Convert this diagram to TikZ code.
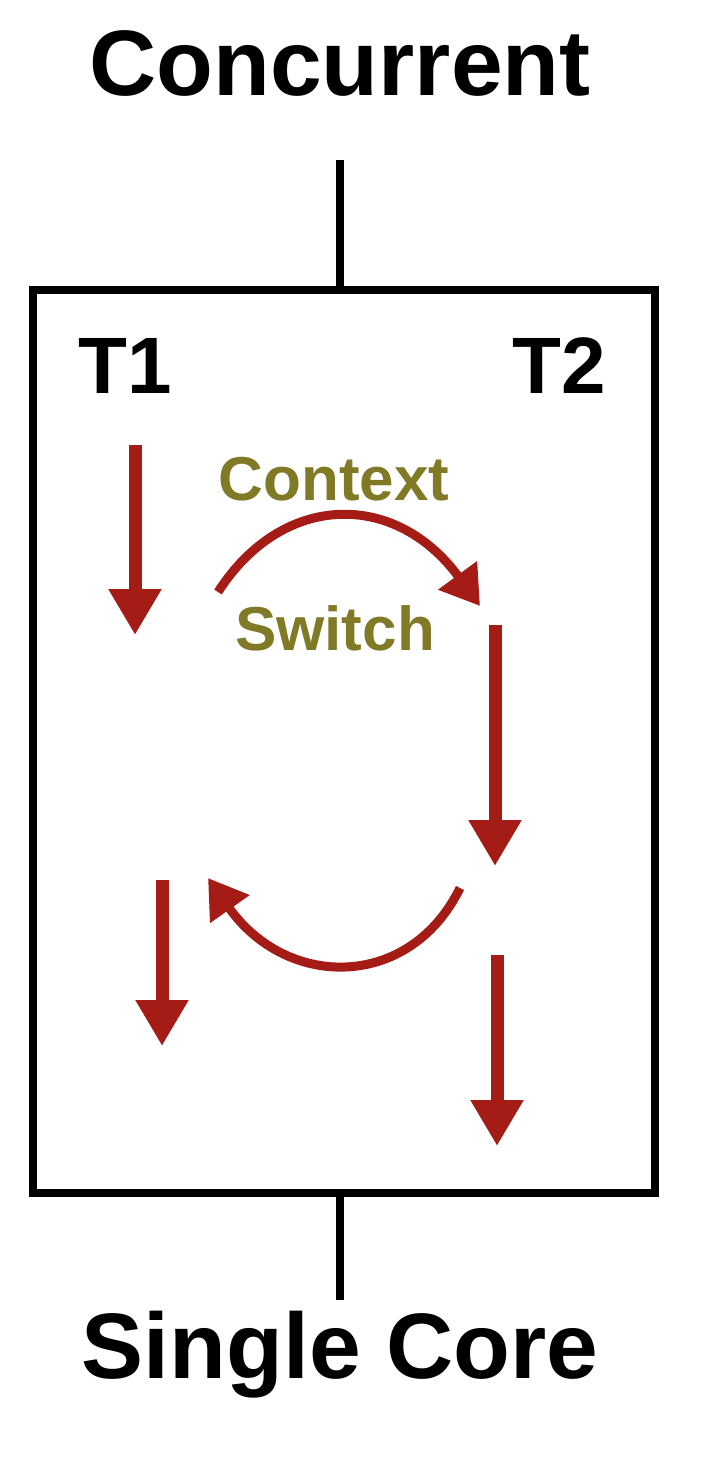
\documentclass[tikz,border=0pt]{standalone}
\usepackage{fontspec}
\setmainfont{Liberation Sans}
\usetikzlibrary{arrows.meta}
\definecolor{arrowred}{RGB}{165,28,22}
\definecolor{olivetext}{RGB}{128,122,38}
\begin{document}
\begin{tikzpicture}[x=0.5pt,y=-0.5pt,
  title/.style={font=\bfseries\fontsize{46.5}{50}\selectfont, inner sep=0pt, anchor=base},
  tlabel/.style={font=\bfseries\fontsize{40}{44}\selectfont, inner sep=0pt, anchor=base},
  cslabel/.style={font=\bfseries\fontsize{31}{34}\selectfont, text=olivetext, inner sep=0pt, anchor=base},
  blackline/.style={line width=4pt, black},
  flow/.style={line width=6.5pt, arrowred, -{Triangle[length=23pt,width=25pt]}},
  switcharrow/.style={line width=4.5pt, arrowred, -{Triangle[length=19pt,width=23pt]}}]
\useasboundingbox (0,0) rectangle (716,1458);
\fill[white] (0,0) rectangle (716,1458);
% texts
\node[title] (conc) at (340,95) {Concurrent};
\node[title] (single) at (340,1378) {Single Core};
\node[tlabel, anchor=base west] (t1) at (78,393) {T1};
\node[tlabel, anchor=base east] (t2) at (606,393) {T2};
\node[cslabel] (ctx) at (334,500) {Context};
\node[cslabel] (sw) at (335,650) {Switch};
% box and stems
\coordinate (topstem) at (340,160);
\coordinate (botstem) at (340,1300);
\node[draw, blackline, minimum width=311pt, minimum height=451.5pt, inner sep=0pt] (box) at (344,741.5) {};
\draw[blackline] (topstem) -- (box.north -| topstem);
\draw[blackline] (box.south -| botstem) -- (botstem);
% flow arrows
\coordinate (a1s) at (135,445); \coordinate (a1e) at (135,635);
\coordinate (a2s) at (495,625); \coordinate (a2e) at (495,866);
\coordinate (a3s) at (162,880); \coordinate (a3e) at (162,1046);
\coordinate (a4s) at (497,955); \coordinate (a4e) at (497,1146);
\draw[flow] (a1s) -- (a1e);
\draw[flow] (a2s) -- (a2e);
\draw[flow] (a3s) -- (a3e);
\draw[flow] (a4s) -- (a4e);
% context switch arrows
\coordinate (c1s) at (218,592); \coordinate (c1e) at (480,606);
\coordinate (c2s) at (460,888); \coordinate (c2e) at (208,878);
\draw[switcharrow] (c1s) .. controls (282,492) and (395,490) .. (c1e);
\draw[switcharrow] (c2s) .. controls (410,990) and (287,990) .. (c2e);
\end{tikzpicture}
\end{document}
